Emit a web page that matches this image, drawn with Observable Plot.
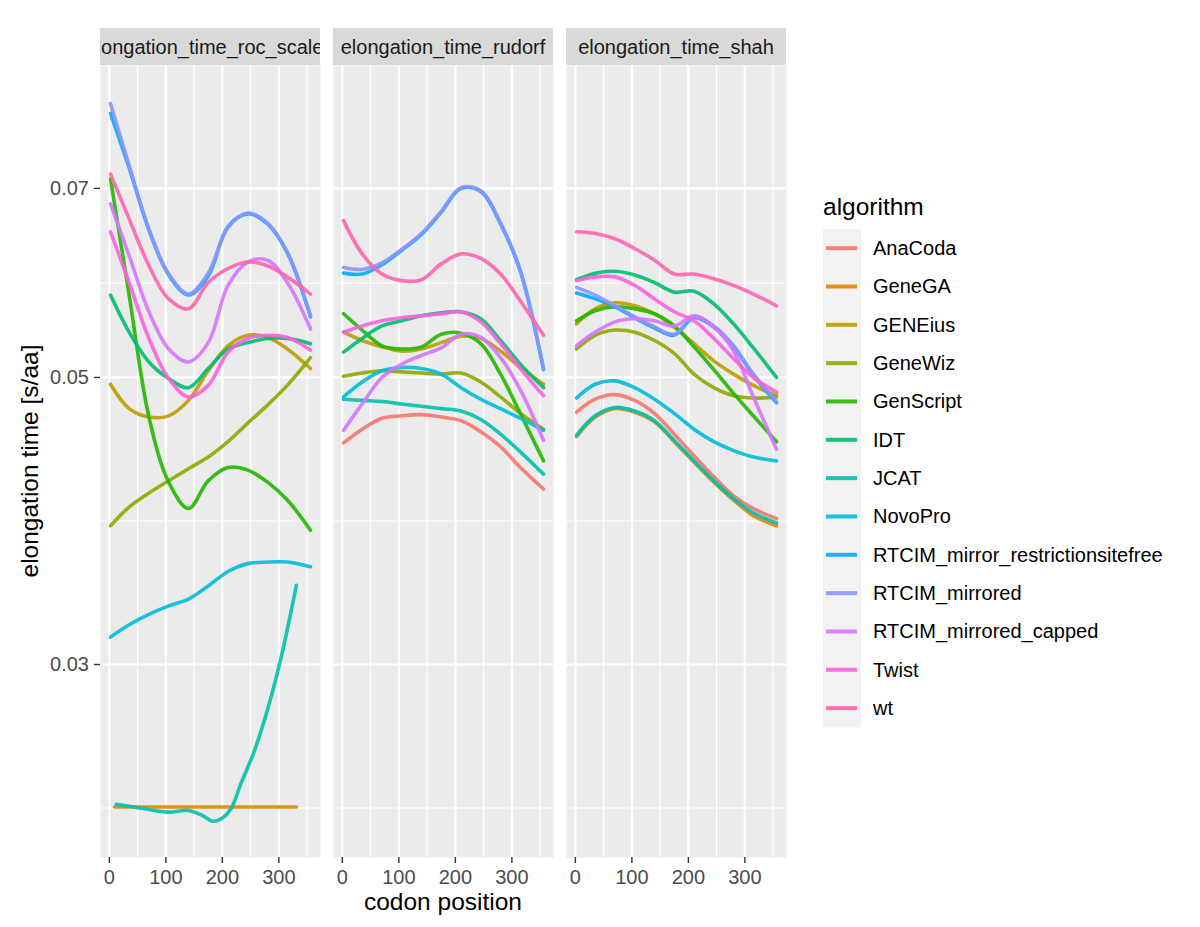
<!DOCTYPE html>
<html><head><meta charset="utf-8">
<script src="https://cdn.jsdelivr.net/npm/d3@7"></script>
<script src="https://cdn.jsdelivr.net/npm/@observablehq/plot@0.6"></script>
<style>
body{margin:0;background:#fff;}
#wrap{position:relative;width:1200px;height:927px;overflow:hidden;background:#fff;}
</style></head>
<body><div id="wrap"></div>
<script>
// ---------- categories ----------
const panels = ["elongation_time_roc_scaled", "elongation_time_rudorf", "elongation_time_shah"];
const algorithms = ["AnaCoda","GeneGA","GENEius","GeneWiz","GenScript","IDT","JCAT","NovoPro",
  "RTCIM_mirror_restrictionsitefree","RTCIM_mirrored","RTCIM_mirrored_capped","Twist","wt"];
const colors = ["#F8766D","#E18A00","#BE9C00","#8CAB00","#24B700","#00BE70","#00C1AB","#00BBDA",
  "#00ACFC","#8B93FF","#D575FE","#F962DD","#FF65AC"];

// ---------- ticks ----------
const xTicks = [0, 100, 200, 300];
const xMinorTicks = [50, 150, 250, 350];
const yTicks = [0.03, 0.05, 0.07];
const yMinorTicks = [0.02324, 0.03873, 0.05916];

// ---------- codon positions of the smoothed curves ----------
const codon = [2, 35, 70, 105, 140, 175, 210, 245, 280, 315, 356];
const codonRocJCAT = [12, 60, 104, 140, 165, 183, 200, 215, 233, 257, 281, 304, 331];
const codonRocGeneGA = [9, 170, 331];

// ---------- elongation_time_roc_scaled ----------
const roc_GeneGA = [0.02328, 0.02328, 0.02328];
const roc_GENEius = [0.0494, 0.0473, 0.0466, 0.0467, 0.0480, 0.0506, 0.0529, 0.0539, 0.0537, 0.0526, 0.0508];
const roc_GeneWiz = [0.0384, 0.0397, 0.0407, 0.0416, 0.0425, 0.0434, 0.0446, 0.0461, 0.0476, 0.0493, 0.0518];
const roc_GenScript = [0.0712, 0.0579, 0.0466, 0.0415, 0.0396, 0.0416, 0.0426, 0.0424, 0.0415, 0.0402, 0.0381];
const roc_IDT = [0.0579, 0.0542, 0.0514, 0.0499, 0.0491, 0.0508, 0.0526, 0.0532, 0.0536, 0.0536, 0.0531];
const roc_JCAT = [0.02339, 0.02322, 0.02307, 0.02314, 0.02293, 0.02270, 0.02283, 0.02320, 0.02428, 0.02575, 0.02779, 0.03038, 0.03454];
const roc_NovoPro = [0.0315, 0.0322, 0.0328, 0.0333, 0.0337, 0.0345, 0.0354, 0.0359, 0.0360, 0.0360, 0.0357];
const roc_RTCIM_mirror_rsf = [0.0800, 0.0726, 0.0650, 0.0600, 0.0579, 0.0599, 0.0654, 0.0669, 0.0657, 0.0624, 0.0557];
const roc_RTCIM_mirrored = [0.0814, 0.0729, 0.0651, 0.0601, 0.0580, 0.0602, 0.0653, 0.0670, 0.0658, 0.0625, 0.0558];
const roc_RTCIM_capped = [0.0681, 0.0621, 0.0562, 0.0526, 0.0514, 0.0532, 0.0589, 0.0614, 0.0616, 0.0592, 0.0545];
const roc_Twist = [0.0648, 0.0592, 0.0536, 0.0499, 0.0483, 0.0493, 0.0523, 0.0536, 0.0539, 0.0537, 0.0525];
const roc_wt = [0.0718, 0.0663, 0.0610, 0.0575, 0.0565, 0.0592, 0.0607, 0.0614, 0.0610, 0.0598, 0.0580];

// ---------- elongation_time_rudorf ----------
const rud_AnaCoda = [0.0445, 0.0456, 0.0465, 0.0467, 0.0468, 0.0466, 0.0463, 0.0454, 0.0442, 0.0426, 0.0410];
const rud_GENEius = [0.0542, 0.0534, 0.0528, 0.0524, 0.0526, 0.0532, 0.0538, 0.0536, 0.0524, 0.0509, 0.0494];
const rud_GeneWiz = [0.0501, 0.0504, 0.0506, 0.0505, 0.0504, 0.0503, 0.0504, 0.0496, 0.0483, 0.0469, 0.0456];
const rud_GenScript = [0.0560, 0.0544, 0.0529, 0.0526, 0.0528, 0.0540, 0.0541, 0.0531, 0.0503, 0.0469, 0.0431];
const rud_IDT = [0.0523, 0.0536, 0.0548, 0.0553, 0.0558, 0.0561, 0.0562, 0.0555, 0.0534, 0.0512, 0.0491];
const rud_JCAT = [0.0481, 0.0480, 0.0479, 0.0477, 0.0475, 0.0473, 0.0471, 0.0464, 0.0452, 0.0438, 0.0421];
const rud_NovoPro = [0.0483, 0.0496, 0.0506, 0.0509, 0.0508, 0.0503, 0.0491, 0.0481, 0.0473, 0.0465, 0.0455];
const rud_RTCIM_mirror_rsf = [0.0602, 0.0601, 0.0611, 0.0627, 0.0645, 0.0671, 0.0700, 0.0696, 0.0657, 0.0604, 0.0507];
const rud_RTCIM_mirrored = [0.0608, 0.0606, 0.0613, 0.0628, 0.0646, 0.0672, 0.0701, 0.0697, 0.0658, 0.0605, 0.0508];
const rud_RTCIM_capped = [0.0455, 0.0477, 0.0500, 0.0512, 0.0520, 0.0527, 0.0540, 0.0537, 0.0518, 0.0489, 0.0447];
const rud_Twist = [0.0542, 0.0548, 0.0553, 0.0556, 0.0558, 0.0560, 0.0562, 0.0552, 0.0531, 0.0508, 0.0484];
const rud_wt = [0.0661, 0.0623, 0.0601, 0.0594, 0.0595, 0.0612, 0.0623, 0.0618, 0.0601, 0.0573, 0.0539];

// ---------- elongation_time_shah ----------
const shah_AnaCoda = [0.0470, 0.0481, 0.0485, 0.0480, 0.0469, 0.0452, 0.0435, 0.0419, 0.0405, 0.0396, 0.0389];
const shah_GeneGA = [0.0450, 0.0466, 0.0473, 0.0470, 0.0462, 0.0446, 0.0430, 0.0415, 0.0402, 0.0391, 0.0384];
const shah_GENEius = [0.0550, 0.0565, 0.0571, 0.0568, 0.0560, 0.0547, 0.0531, 0.0515, 0.0503, 0.0493, 0.0484];
const shah_GeneWiz = [0.0526, 0.0539, 0.0544, 0.0542, 0.0534, 0.0522, 0.0503, 0.0491, 0.0484, 0.0482, 0.0483];
const shah_GenScript = [0.0553, 0.0563, 0.0567, 0.0565, 0.0560, 0.0548, 0.0528, 0.0507, 0.0486, 0.0467, 0.0446];
const shah_IDT = [0.0595, 0.0602, 0.0604, 0.0600, 0.0592, 0.0582, 0.0583, 0.0570, 0.0550, 0.0527, 0.0500];
const shah_JCAT = [0.0451, 0.0467, 0.0474, 0.0471, 0.0463, 0.0447, 0.0431, 0.0416, 0.0403, 0.0393, 0.0386];
const shah_NovoPro = [0.0482, 0.0494, 0.0497, 0.0491, 0.0481, 0.0469, 0.0456, 0.0446, 0.0439, 0.0434, 0.0431];
const shah_RTCIM_mirror_rsf = [0.0581, 0.0575, 0.0567, 0.0556, 0.0546, 0.0539, 0.0556, 0.0547, 0.0528, 0.0502, 0.0478];
const shah_RTCIM_mirrored = [0.0587, 0.0579, 0.0568, 0.0557, 0.0547, 0.0540, 0.0557, 0.0548, 0.0529, 0.0503, 0.0479];
const shah_RTCIM_capped = [0.0529, 0.0542, 0.0552, 0.0555, 0.0553, 0.0548, 0.0558, 0.0547, 0.0524, 0.0483, 0.0440];
const shah_Twist = [0.0594, 0.0598, 0.0598, 0.0589, 0.0575, 0.0562, 0.0553, 0.0536, 0.0517, 0.0500, 0.0487];
const shah_wt = [0.0648, 0.0646, 0.0640, 0.0629, 0.0616, 0.0601, 0.0601, 0.0596, 0.0589, 0.0580, 0.0568];

// ---------- build long table ----------
const [P1, P2, P3] = panels;
const seriesList = [
  [P1, "GeneGA", codonRocGeneGA, roc_GeneGA],
  [P1, "GENEius", codon, roc_GENEius],
  [P1, "GeneWiz", codon, roc_GeneWiz],
  [P1, "GenScript", codon, roc_GenScript],
  [P1, "IDT", codon, roc_IDT],
  [P1, "JCAT", codonRocJCAT, roc_JCAT],
  [P1, "NovoPro", codon, roc_NovoPro],
  [P1, "RTCIM_mirror_restrictionsitefree", codon, roc_RTCIM_mirror_rsf],
  [P1, "RTCIM_mirrored", codon, roc_RTCIM_mirrored],
  [P1, "RTCIM_mirrored_capped", codon, roc_RTCIM_capped],
  [P1, "Twist", codon, roc_Twist],
  [P1, "wt", codon, roc_wt],
  [P2, "AnaCoda", codon, rud_AnaCoda],
  [P2, "GENEius", codon, rud_GENEius],
  [P2, "GeneWiz", codon, rud_GeneWiz],
  [P2, "GenScript", codon, rud_GenScript],
  [P2, "IDT", codon, rud_IDT],
  [P2, "JCAT", codon, rud_JCAT],
  [P2, "NovoPro", codon, rud_NovoPro],
  [P2, "RTCIM_mirror_restrictionsitefree", codon, rud_RTCIM_mirror_rsf],
  [P2, "RTCIM_mirrored", codon, rud_RTCIM_mirrored],
  [P2, "RTCIM_mirrored_capped", codon, rud_RTCIM_capped],
  [P2, "Twist", codon, rud_Twist],
  [P2, "wt", codon, rud_wt],
  [P3, "AnaCoda", codon, shah_AnaCoda],
  [P3, "GeneGA", codon, shah_GeneGA],
  [P3, "GENEius", codon, shah_GENEius],
  [P3, "GeneWiz", codon, shah_GeneWiz],
  [P3, "GenScript", codon, shah_GenScript],
  [P3, "IDT", codon, shah_IDT],
  [P3, "JCAT", codon, shah_JCAT],
  [P3, "NovoPro", codon, shah_NovoPro],
  [P3, "RTCIM_mirror_restrictionsitefree", codon, shah_RTCIM_mirror_rsf],
  [P3, "RTCIM_mirrored", codon, shah_RTCIM_mirrored],
  [P3, "RTCIM_mirrored_capped", codon, shah_RTCIM_capped],
  [P3, "Twist", codon, shah_Twist],
  [P3, "wt", codon, shah_wt]
];
const rows = [];
seriesList
  .slice()
  .sort((a, b) => algorithms.indexOf(a[1]) - algorithms.indexOf(b[1]))
  .forEach(([panel, algorithm, xs, vs]) => {
    xs.forEach((c, i) => rows.push({panel, algorithm, key: panel + "|" + algorithm, codon: c, time: vs[i]}));
  });

const FONT = "'Liberation Sans', Arial, Helvetica, sans-serif";
const LINE_OPACITY = 0.9;
const LINE_WIDTH = 3.6;
const SMALL = 20;
const LARGE = 24.5;

const plot = Plot.plot({
  width: 1200,
  height: 927,
  marginTop: 65,
  marginBottom: 70,
  marginLeft: 99,
  marginRight: 414,
  style: {fontFamily: FONT, background: "#fff", overflow: "visible"},
  fx: {domain: panels, padding: 0.057, axis: null},
  x: {domain: [-15.7, 373.7], axis: null},
  y: {type: "log", domain: [0.02128, 0.08711], axis: null},
  color: {domain: algorithms, range: colors},
  marks: [
    Plot.frame({fill: "#EBEBEB", stroke: "none"}),
    Plot.gridY(yMinorTicks, {stroke: "#fff", strokeOpacity: 1, strokeWidth: 1.1}),
    Plot.gridX(xMinorTicks, {stroke: "#fff", strokeOpacity: 1, strokeWidth: 1.1}),
    Plot.gridY(yTicks, {stroke: "#fff", strokeOpacity: 1, strokeWidth: 2.2}),
    Plot.gridX(xTicks, {stroke: "#fff", strokeOpacity: 1, strokeWidth: 2.2}),
    Plot.line(rows, {
      fx: "panel", x: "codon", y: "time", z: "key", stroke: "algorithm",
      strokeWidth: LINE_WIDTH, strokeOpacity: LINE_OPACITY, curve: "catmull-rom"
    }),
    Plot.axisX({ticks: xTicks, tickSize: 6, tickPadding: 6, fontSize: SMALL,
      fill: "#4D4D4D", stroke: "#333333", strokeWidth: 1.4, label: null}),
    Plot.axisY({ticks: yTicks, tickSize: 6, tickPadding: 5.5, fontSize: SMALL,
      tickFormat: d => d.toFixed(2), fill: "#4D4D4D", stroke: "#333333", strokeWidth: 1.4, label: null})
  ]
});

document.getElementById("wrap").appendChild(plot);

// ---------- strips, axis titles, legend ----------
const svg = d3.select(plot);
const fx = plot.scale("fx");
const bw = fx.bandwidth;
const stripTop = 28, stripBottom = 65;
const defs = svg.append("defs");
const gStrip = svg.append("g").attr("font-family", FONT);
panels.forEach((p, i) => {
  const x0 = fx.apply(p);
  defs.append("clipPath").attr("id", "strip-clip-" + i)
    .append("rect").attr("x", x0).attr("y", stripTop).attr("width", bw).attr("height", stripBottom - stripTop);
  const g = gStrip.append("g").attr("clip-path", `url(#strip-clip-${i})`);
  g.append("rect").attr("x", x0).attr("y", stripTop).attr("width", bw).attr("height", stripBottom - stripTop)
    .attr("fill", "#D9D9D9");
  g.append("text").attr("x", x0 + bw / 2).attr("y", 54).attr("text-anchor", "middle")
    .attr("font-size", SMALL).attr("fill", "#1A1A1A").text(p);
});

const xl = fx.apply(panels[0]);
const xr = fx.apply(panels[2]) + bw;
svg.append("text").attr("x", (xl + xr) / 2).attr("y", 910).attr("text-anchor", "middle")
  .attr("font-family", FONT).attr("font-size", LARGE).attr("fill", "#000").text("codon position");
svg.append("text").attr("transform", `translate(38,${(65 + 857) / 2}) rotate(-90)`).attr("text-anchor", "middle")
  .attr("font-family", FONT).attr("font-size", LARGE).attr("fill", "#000").text("elongation time [s/aa]");

const gLeg = svg.append("g").attr("font-family", FONT).attr("text-anchor", "start");
const legX = 823, legTop = 229, keyH = 38.33;
gLeg.append("text").attr("x", legX).attr("y", 215).attr("font-size", LARGE).attr("fill", "#000")
  .attr("text-anchor", "start").text("algorithm");
gLeg.append("rect").attr("x", legX).attr("y", legTop).attr("width", 38).attr("height", keyH * algorithms.length)
  .attr("fill", "#F2F2F2");
algorithms.forEach((a, i) => {
  const cy = legTop + keyH * (i + 0.5);
  gLeg.append("line").attr("x1", legX + 3).attr("x2", legX + 34).attr("y1", cy).attr("y2", cy)
    .attr("stroke", colors[i]).attr("stroke-width", 4).attr("stroke-opacity", LINE_OPACITY);
  gLeg.append("text").attr("x", legX + 50).attr("y", cy + 7).attr("font-size", SMALL).attr("fill", "#000")
    .attr("text-anchor", "start").text(a);
});
</script>
</body></html>
